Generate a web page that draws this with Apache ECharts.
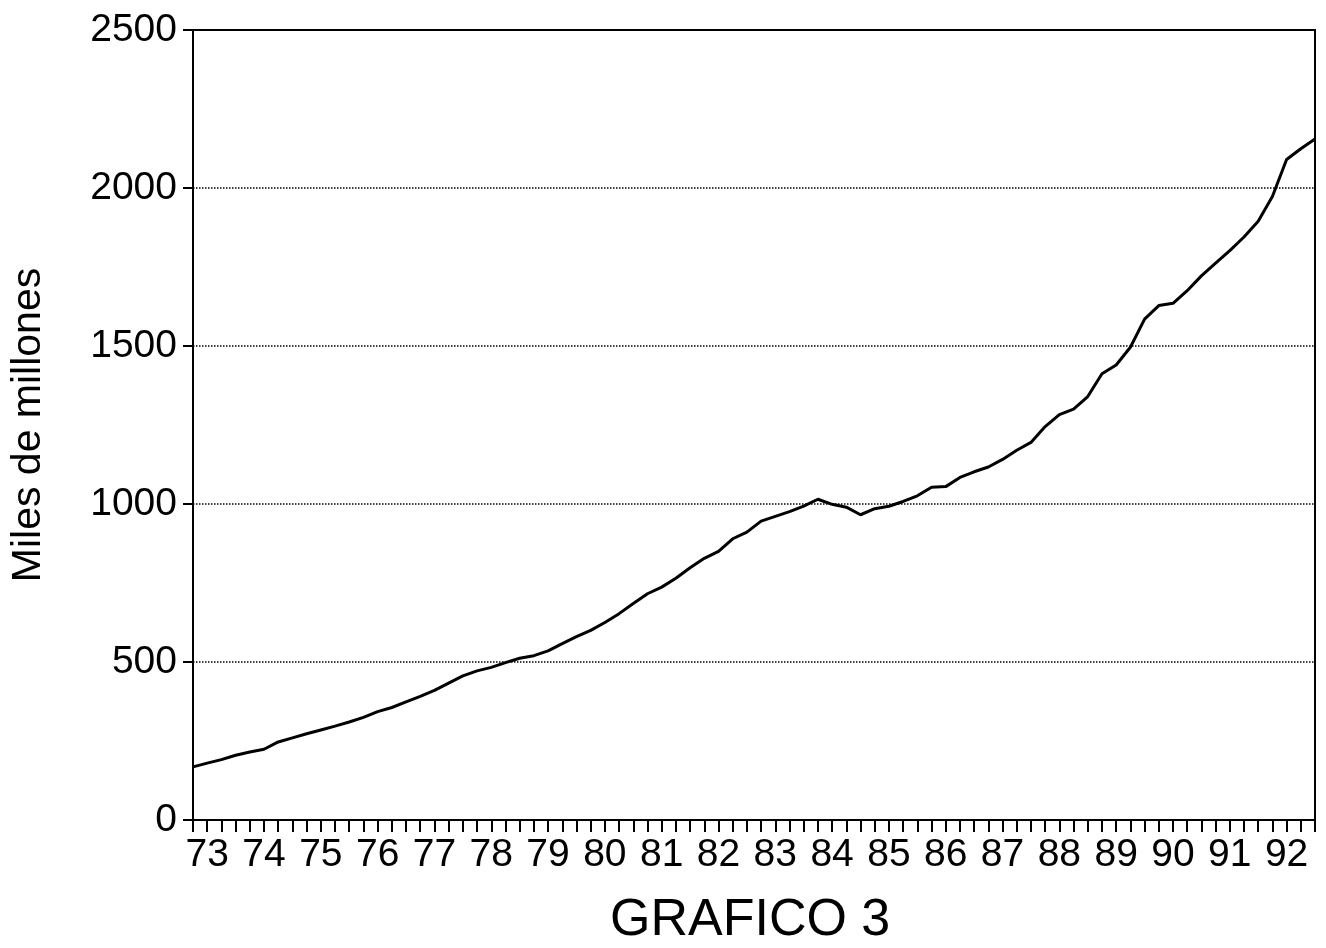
<!DOCTYPE html>
<html>
<head>
<meta charset="utf-8">
<script src="https://cdn.jsdelivr.net/npm/echarts@6/dist/echarts.min.js"></script>
<style>html,body{margin:0;padding:0;background:#fff;}#c{width:1326px;height:948px;}</style>
</head>
<body>
<div id="c"></div>
<script>
const years = ['73','74','75','76','77','78','79','80','81','82','83','84','85','86','87','88','89','90','91','92'];
const quarters = ['I','II','III','IV'];
const categories = [];
years.forEach(y => quarters.forEach(q => categories.push('19' + y + '-' + q)));
const values = [
  168, 180, 191, 205, 215, 224, 247, 260, 273, 285,
  297, 310, 325, 343, 356, 374, 391, 410, 433, 456,
  472, 483, 498, 512, 520, 535, 558, 580, 600, 625,
  653, 685, 716, 737, 765, 798, 828, 850, 890, 911,
  946, 961, 976, 993, 1015, 999, 990, 966, 985, 993,
  1008, 1026, 1053, 1055, 1084, 1102, 1117, 1141, 1170, 1195,
  1245, 1283, 1300, 1340, 1412, 1440, 1496, 1585, 1628, 1635,
  1675, 1722, 1762, 1802, 1845, 1895, 1973, 2090, 2124, 2155
];
const yTicks = [0, 500, 1000, 1500, 2000, 2500];
const yName = 'Miles de millones';
const titleText = 'GRAFICO 3';

const chart = echarts.init(document.getElementById('c'));
const font = 'Liberation Sans, Arial, Helvetica, sans-serif';
chart.setOption({
  animation: false,
  backgroundColor: '#fff',
  title: {
    text: titleText,
    left: 605,
    top: 890,
    textStyle: {fontFamily: font, fontSize: 52, fontWeight: 'normal', color: '#000'}
  },
  grid: {
    left: 187, right: 11, top: 30, bottom: 128,
    show: true, borderColor: '#000', borderWidth: 2, containLabel: false
  },
  xAxis: {
    type: 'category',
    data: categories,
    boundaryGap: false,
    axisLine: {lineStyle: {color: '#000', width: 2}},
    axisTick: {show: true, interval: 0, length: 12, lineStyle: {color: '#000', width: 2}},
    axisLabel: {
      interval: (i) => i % 4 === 1,
      formatter: (v) => v.slice(2, 4),
      fontFamily: font, fontSize: 39, color: '#000', margin: 16
    },
    splitLine: {show: false}
  },
  yAxis: {
    type: 'value',
    min: yTicks[0],
    max: yTicks[yTicks.length - 1],
    interval: 500,
    name: yName,
    nameLocation: 'middle',
    nameRotate: 90,
    nameGap: 144,
    nameTextStyle: {fontFamily: font, fontSize: 41, color: '#000'},
    axisLine: {show: true, lineStyle: {color: '#000', width: 2}},
    axisTick: {show: true, length: 10, lineStyle: {color: '#000', width: 2}},
    axisLabel: {formatter: (v) => String(v), fontFamily: font, fontSize: 39, color: '#000', margin: 16},
    splitLine: {show: true, lineStyle: {type: 'dotted', color: '#000', width: 1.5}}
  },
  series: [{
    type: 'line',
    data: values,
    showSymbol: false,
    smooth: false,
    lineStyle: {color: '#000', width: 3}
  }]
});
</script>
</body>
</html>
